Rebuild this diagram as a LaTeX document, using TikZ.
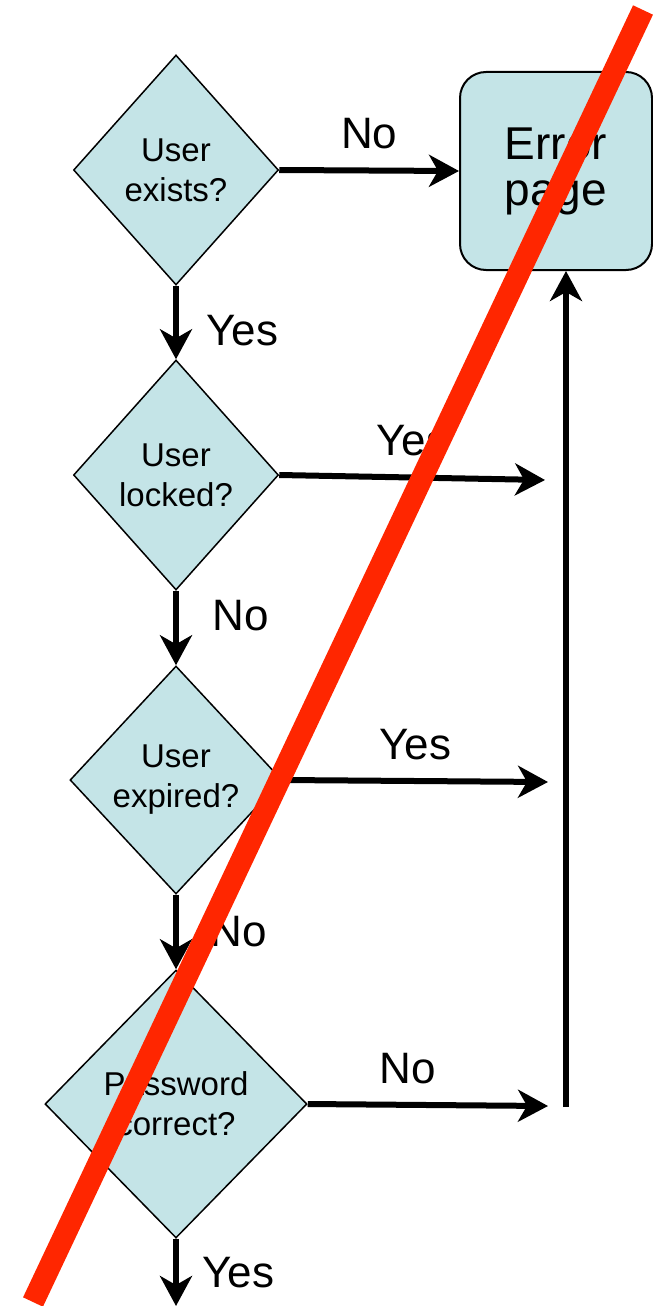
\documentclass[tikz,border=0pt]{standalone}
\usepackage{fontspec}
\setmainfont{Liberation Sans}
\usepackage{tikz}
\usetikzlibrary{calc, positioning, arrows.meta, shapes.geometric}
\usepackage{xcolor}
\definecolor{boxcyan}{RGB}{196, 228, 231}
\definecolor{crossred}{RGB}{255, 38, 0}
\tikzset{
    decision/.style={diamond, draw=black, line width=1.5pt, fill=boxcyan, inner sep=0pt, align=center, font=\fontsize{33}{40}\selectfont},
    errorbox/.style={rectangle, rounded corners=26pt, draw=black, line width=2pt, fill=boxcyan, align=center, font=\fontsize{46}{46}\selectfont},
    flowarrow/.style={-{Stealth[length=30pt, width=32pt, inset=9pt]}, line width=6pt},
    branch/.style={font=\fontsize{44}{44}\selectfont}
}
\begin{document}
\begin{tikzpicture}[x=1pt, y=-1pt]
            \useasboundingbox (0,0) rectangle (653,1306);
            \node[decision, minimum width=205pt, minimum height=230pt] (exists) at (176,170) {User\\exists?};
            \node[decision, minimum width=205pt, minimum height=230pt] (locked) at (176,475) {User\\locked?};
            \node[decision, minimum width=212pt, minimum height=228pt] (expired) at (176,780) {User\\expired?};
            \node[decision, minimum width=262pt, minimum height=268pt] (password) at (176,1104) {Password\\correct?};
            \node[errorbox, minimum width=192pt, minimum height=198pt] (error) at (556,171) {Error\\page};

            \coordinate (lockedend) at (545,480);
            \coordinate (expiredend) at (548,782);
            \coordinate (passwordend) at (548,1106);
            \coordinate (back) at (566,1107);
            \coordinate (done) at (176,1306);

            \draw[flowarrow] (exists.east) -- node[branch, above=15pt] {No} (error.west);
            \draw[flowarrow] (exists.south) -- node[branch, right=24pt, yshift=-8pt] {Yes} (locked.north);
            \draw[flowarrow] (locked.east) -- node[branch, above=15pt] {Yes} (lockedend);
            \draw[flowarrow] (locked.south) -- node[branch, right=30pt, yshift=12pt] {No} (expired.north);
            \draw[flowarrow] (expired.east) -- node[branch, above=15pt] {Yes} (expiredend);
            \draw[flowarrow] (expired.south) -- node[branch, right=28pt] {No} (password.north);
            \draw[flowarrow] (password.east) -- node[branch, above=15pt, xshift=-20pt] {No} (passwordend);
            \draw[flowarrow] (password.south) -- node[branch, right=20pt] {Yes} (done);

            % back to the error page
            \draw[flowarrow] (back) -- (back |- error.south);

            % crossed out
            \draw[crossred, line width=22pt] (33,1302) -- (643,10);
        \end{tikzpicture}
\end{document}
